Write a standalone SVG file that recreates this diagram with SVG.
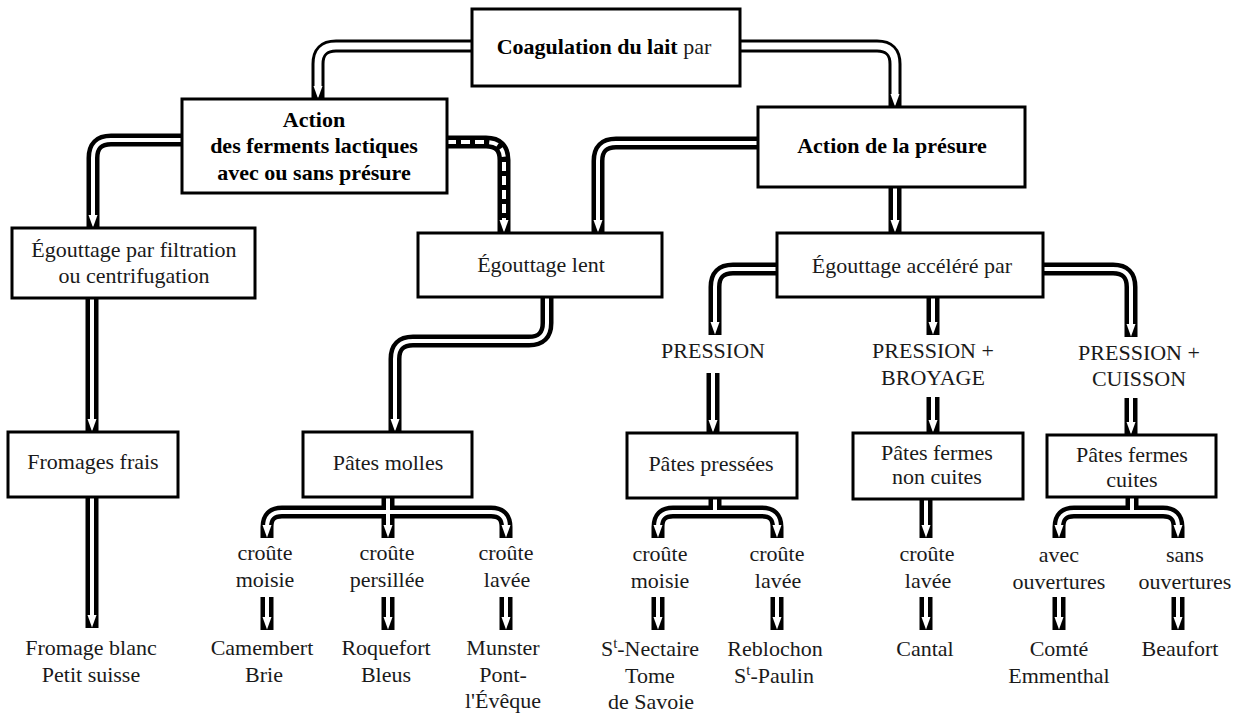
<svg xmlns="http://www.w3.org/2000/svg" xmlns:xlink="http://www.w3.org/1999/xlink" width="1239" height="716" viewBox="0 0 1239 716">
<style>
.o{fill:none;stroke:#000;stroke-width:13;stroke-linejoin:round}
.i{fill:none;stroke:#fff;stroke-width:4}
.iw{fill:none;stroke:#fff;stroke-width:7}
.d{fill:none;stroke:#fff;stroke-width:4;stroke-dasharray:9 5}
.box{fill:#fff;stroke:#000;stroke-width:3}
text{font-family:"Liberation Serif","Times New Roman",serif;font-size:22px;fill:#1a1a1a;text-anchor:middle}
.b{font-weight:bold;fill:#000}
.r{font-weight:normal;fill:#1a1a1a}
</style>
<defs>
<path id="ah" d="M-4.5,-13 L4.5,-13 L0,-0.5 Z" fill="#fff"/>
</defs>
<rect width="1239" height="716" fill="#fff"/>
<g id="connectors">
<g class="outer">
<path class="o" d="M472,46 H336 Q318,46 318,64 V99"/>
<path class="o" d="M740,46 H877 Q895,46 895,64 V107"/>
<path class="o" d="M182,140 H111 Q93,140 93,158 V228"/>
<path class="o" d="M447,142 H486 Q504,142 504,160 V233"/>
<path class="o" d="M758,143 H616 Q598,143 598,161 V233"/>
<path class="o" d="M895,187 V233"/>
<path class="o" d="M92,298 V432"/>
<path class="o" d="M547,297 V323 Q547,341 529,341 H413 Q395,341 395,359 V432"/>
<path class="o" d="M777,269 H733 Q715,269 715,287 V335"/>
<path class="o" d="M933,297 V335"/>
<path class="o" d="M1043,269 H1113 Q1131,269 1131,287 V337"/>
<path class="o" d="M713,373 V433"/>
<path class="o" d="M933,397 V433"/>
<path class="o" d="M1131,398 V435"/>
<path class="o" d="M92,497 V628"/>
<path class="o" d="M388,497 V538"/>
<path class="o" d="M267,538 V527 Q267,512 282,512 H491 Q506,512 506,527 V538"/>
<path class="o" d="M715,498 V512"/>
<path class="o" d="M658,538 V527 Q658,512 673,512 H762 Q777,512 777,527 V538"/>
<path class="o" d="M926,499 V538"/>
<path class="o" d="M1132,497 V512"/>
<path class="o" d="M1059,538 V527 Q1059,512 1074,512 H1163 Q1178,512 1178,527 V538"/>
<path class="o" d="M267,597 V630 M388,597 V630 M506,597 V630 M658,597 V630 M777,597 V630 M926,597 V630 M1059,597 V630 M1178,597 V630"/>
</g>
<g class="inner">
<path class="iw" d="M472,46 H336 Q318,46 318,64 V87"/>
<path class="iw" d="M740,46 H877 Q895,46 895,64 V95"/>
<path class="i" d="M182,140 H111 Q93,140 93,158 V216"/>
<path class="d" d="M447,142 H486 Q504,142 504,160 V221"/>
<path class="i" d="M758,143 H616 Q598,143 598,161 V221"/>
<path class="i" d="M895,187 V221"/>
<path class="i" d="M92,298 V420"/>
<path class="i" d="M547,297 V323 Q547,341 529,341 H413 Q395,341 395,359 V420"/>
<path class="i" d="M777,269 H733 Q715,269 715,287 V323"/>
<path class="i" d="M933,297 V323"/>
<path class="i" d="M1043,269 H1113 Q1131,269 1131,287 V325"/>
<path class="i" d="M713,373 V421"/>
<path class="i" d="M933,397 V421"/>
<path class="i" d="M1131,398 V423"/>
<path class="i" d="M92,497 V616"/>
<path class="i" d="M388,497 V526"/>
<path class="i" d="M267,527 Q267,512 282,512 H491 Q506,512 506,527"/>
<path class="i" d="M715,498 V512"/>
<path class="i" d="M658,527 Q658,512 673,512 H762 Q777,512 777,527"/>
<path class="i" d="M926,499 V526"/>
<path class="i" d="M1132,497 V512"/>
<path class="i" d="M1059,527 Q1059,512 1074,512 H1163 Q1178,512 1178,527"/>
<path class="i" d="M267,597 V618 M388,597 V618 M506,597 V618 M658,597 V618 M777,597 V618 M926,597 V618 M1059,597 V618 M1178,597 V618"/>
</g>
<g class="heads">
<use xlink:href="#ah" href="#ah" transform="translate(318,99)"/>
<use xlink:href="#ah" href="#ah" transform="translate(895,107)"/>
<use xlink:href="#ah" href="#ah" transform="translate(93,228)"/>
<use xlink:href="#ah" href="#ah" transform="translate(504,233)"/>
<use xlink:href="#ah" href="#ah" transform="translate(598,233)"/>
<use xlink:href="#ah" href="#ah" transform="translate(895,233)"/>
<use xlink:href="#ah" href="#ah" transform="translate(92,432)"/>
<use xlink:href="#ah" href="#ah" transform="translate(395,432)"/>
<use xlink:href="#ah" href="#ah" transform="translate(715,335)"/>
<use xlink:href="#ah" href="#ah" transform="translate(933,335)"/>
<use xlink:href="#ah" href="#ah" transform="translate(1131,337)"/>
<use xlink:href="#ah" href="#ah" transform="translate(713,433)"/>
<use xlink:href="#ah" href="#ah" transform="translate(933,433)"/>
<use xlink:href="#ah" href="#ah" transform="translate(1131,435)"/>
<use xlink:href="#ah" href="#ah" transform="translate(92,628)"/>
<use xlink:href="#ah" href="#ah" transform="translate(267,538)"/>
<use xlink:href="#ah" href="#ah" transform="translate(388,538)"/>
<use xlink:href="#ah" href="#ah" transform="translate(506,538)"/>
<use xlink:href="#ah" href="#ah" transform="translate(658,538)"/>
<use xlink:href="#ah" href="#ah" transform="translate(777,538)"/>
<use xlink:href="#ah" href="#ah" transform="translate(926,538)"/>
<use xlink:href="#ah" href="#ah" transform="translate(1059,538)"/>
<use xlink:href="#ah" href="#ah" transform="translate(1178,538)"/>
<use xlink:href="#ah" href="#ah" transform="translate(267,630)"/>
<use xlink:href="#ah" href="#ah" transform="translate(388,630)"/>
<use xlink:href="#ah" href="#ah" transform="translate(506,630)"/>
<use xlink:href="#ah" href="#ah" transform="translate(658,630)"/>
<use xlink:href="#ah" href="#ah" transform="translate(777,630)"/>
<use xlink:href="#ah" href="#ah" transform="translate(926,630)"/>
<use xlink:href="#ah" href="#ah" transform="translate(1059,630)"/>
<use xlink:href="#ah" href="#ah" transform="translate(1178,630)"/>
</g>
</g>
<g id="n-coagulation"><rect class="box" x="472" y="9" width="268" height="77"/><text x="604" y="54"><tspan class="b">Coagulation du lait</tspan><tspan class="r"> par</tspan></text></g>
<g id="n-ferments"><rect class="box" x="182" y="99" width="265" height="94"/><text class="b" x="314" y="127">Action</text><text class="b" x="314" y="153">des ferments lactiques</text><text class="b" x="314" y="180">avec ou sans présure</text></g>
<g id="n-presure"><rect class="box" x="758" y="107" width="267" height="80"/><text class="b" x="892" y="153">Action de la présure</text></g>
<g id="n-filtration"><rect class="box" x="12" y="228" width="243" height="70"/><text x="134" y="257">Égouttage par filtration</text><text x="134" y="283">ou centrifugation</text></g>
<g id="n-lent"><rect class="box" x="418" y="233" width="244" height="64"/><text x="541" y="272">Égouttage lent</text></g>
<g id="n-accelere"><rect class="box" x="777" y="233" width="266" height="64"/><text x="912" y="273">Égouttage accéléré par</text></g>
<g id="n-pression"><text x="713" y="358">PRESSION</text></g>
<g id="n-broyage"><text x="933" y="358">PRESSION +</text><text x="933" y="385">BROYAGE</text></g>
<g id="n-cuisson"><text x="1139" y="360">PRESSION +</text><text x="1139" y="386">CUISSON</text></g>
<g id="n-frais"><rect class="box" x="8" y="432" width="170" height="65"/><text x="93" y="469">Fromages frais</text></g>
<g id="n-molles"><rect class="box" x="303" y="432" width="169" height="65"/><text x="388" y="470">Pâtes molles</text></g>
<g id="n-pressees"><rect class="box" x="627" y="433" width="170" height="65"/><text x="711" y="471">Pâtes pressées</text></g>
<g id="n-noncuites"><rect class="box" x="853" y="433" width="170" height="66"/><text x="937" y="460">Pâtes fermes</text><text x="937" y="484">non cuites</text></g>
<g id="n-cuites"><rect class="box" x="1047" y="435" width="169" height="62"/><text x="1132" y="462">Pâtes fermes</text><text x="1132" y="487">cuites</text></g>
<g id="n-fromage-blanc"><text x="91" y="655">Fromage blanc</text><text x="91" y="682">Petit suisse</text></g>
<g id="n-molles-moisie"><text x="265" y="560">croûte</text><text x="265" y="587">moisie</text></g>
<g id="n-molles-persillee"><text x="387" y="560">croûte</text><text x="387" y="587">persillée</text></g>
<g id="n-molles-lavee"><text x="506" y="560">croûte</text><text x="507" y="587">lavée</text></g>
<g id="n-camembert"><text x="262" y="655">Camembert</text><text x="264" y="682">Brie</text></g>
<g id="n-roquefort"><text x="386" y="655">Roquefort</text><text x="386" y="682">Bleus</text></g>
<g id="n-munster"><text x="503" y="655">Munster</text><text x="503" y="682">Pont-</text><text x="503" y="708">l'Évêque</text></g>
<g id="n-pressees-moisie"><text x="660" y="561">croûte</text><text x="660" y="588">moisie</text></g>
<g id="n-pressees-lavee"><text x="777" y="561">croûte</text><text x="778" y="588">lavée</text></g>
<g id="n-nectaire"><text x="650" y="656">S<tspan font-size="15" dy="-8">t</tspan><tspan dy="8">-Nectaire</tspan></text><text x="650" y="683">Tome</text><text x="651" y="709">de Savoie</text></g>
<g id="n-reblochon"><text x="775" y="656">Reblochon</text><text x="774" y="683">S<tspan font-size="15" dy="-8">t</tspan><tspan dy="8">-Paulin</tspan></text></g>
<g id="n-noncuites-lavee"><text x="927" y="561">croûte</text><text x="928" y="588">lavée</text></g>
<g id="n-cantal"><text x="925" y="656">Cantal</text></g>
<g id="n-avec"><text x="1059" y="562">avec</text><text x="1059" y="589">ouvertures</text></g>
<g id="n-sans"><text x="1185" y="562">sans</text><text x="1185" y="589">ouvertures</text></g>
<g id="n-comte"><text x="1059" y="656">Comté</text><text x="1059" y="683">Emmenthal</text></g>
<g id="n-beaufort"><text x="1180" y="656">Beaufort</text></g>
</svg>
